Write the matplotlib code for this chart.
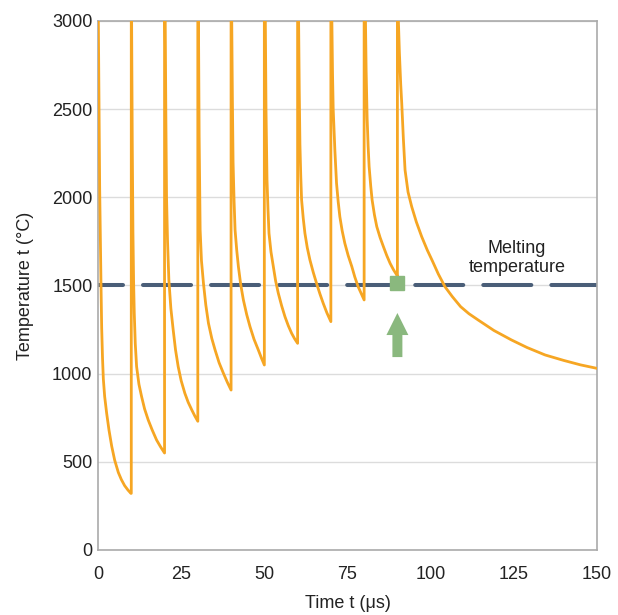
import matplotlib
matplotlib.use("Agg")
import matplotlib.pyplot as plt
from matplotlib.patches import FancyArrow

plt.rcParams["font.family"] = ["Liberation Sans", "DejaVu Sans"]

# pulse instants (µs) and the off-scale peak each pulse reaches (°C)
pulse_t = [0, 10, 20, 30, 40, 50, 60, 70, 80, 90]
peak_T = 3600

# cooling curves after each pulse: time (µs), temperature (°C)
seg0_t = [0.1, 0.3, 0.5, 0.7, 0.9, 1.1, 1.35, 1.6, 2.0, 2.6, 3.3, 4.1, 5.0, 6.1, 7.0, 8.0, 9.0, 9.9]
seg0_T = [3000, 2500, 2050, 1750, 1500, 1260, 1090, 970, 870, 775, 680, 590, 510, 440, 400, 365, 340, 321]
seg1_t = [10.1, 10.3, 10.5, 10.7, 10.9, 11.2, 11.6, 12.3, 13.1, 14.0, 15.1, 16.3, 17.6, 18.8, 20.0]
seg1_T = [3000, 2300, 1800, 1520, 1342, 1170, 1040, 940, 870, 800, 737, 680, 624, 585, 550]
seg2_t = [20.2, 20.4, 20.6, 20.9, 21.3, 21.9, 22.6, 23.3, 24.1, 25.0, 26.1, 27.1, 28.2, 29.1, 30.0]
seg2_T = [3000, 2450, 2000, 1750, 1531, 1370, 1248, 1135, 1040, 960, 889, 838, 794, 760, 730]
seg3_t = [30.2, 30.4, 30.7, 31.1, 31.7, 32.4, 33.2, 34.2, 35.2, 36.4, 37.7, 38.9, 40.0]
seg3_T = [3000, 2350, 1815, 1640, 1512, 1390, 1286, 1200, 1134, 1062, 1002, 950, 907]
seg4_t = [40.2, 40.4, 40.6, 40.9, 41.2, 41.7, 42.2, 42.9, 43.7, 44.7, 45.7, 46.9, 48.2, 49.1, 50.0]
seg4_T = [3000, 2550, 2200, 1980, 1815, 1700, 1607, 1505, 1418, 1335, 1266, 1195, 1134, 1090, 1049]
seg5_t = [50.3, 50.5, 50.8, 51.1, 51.4, 52.0, 52.7, 53.4, 54.2, 55.2, 56.2, 57.2, 58.2, 59.1, 60.0]
seg5_T = [3000, 2500, 2100, 1930, 1796, 1690, 1607, 1525, 1456, 1385, 1323, 1272, 1229, 1198, 1172]
seg6_t = [60.3, 60.5, 60.7, 60.95, 61.2, 61.7, 62.2, 62.9, 63.7, 64.7, 65.7, 66.7, 67.7, 68.8, 70.0]
seg6_T = [3000, 2600, 2300, 2120, 1985, 1880, 1796, 1715, 1645, 1575, 1512, 1453, 1399, 1345, 1295]
seg7_t = [70.3, 70.5, 70.7, 71.2, 71.7, 72.2, 72.7, 73.4, 74.2, 75.2, 76.3, 77.2, 78.2, 79.1, 80.0]
seg7_T = [3000, 2700, 2500, 2268, 2080, 1975, 1890, 1810, 1739, 1670, 1607, 1548, 1493, 1455, 1418]
seg8_t = [80.4, 80.6, 80.9, 81.2, 81.5, 82.0, 82.4, 83.1, 83.8, 84.8, 85.8, 86.8, 87.8, 88.8, 89.8, 90.0]
seg8_T = [3000, 2720, 2450, 2290, 2174, 2060, 1985, 1900, 1834, 1772, 1720, 1670, 1626, 1590, 1560, 1530]
seg9_t = [90.3, 90.6, 91.0, 91.3, 91.8, 92.3, 93.2, 94.3, 95.7, 97.3, 99.0, 100.5, 102.3, 104.3,
          106.5, 109.0, 111.5, 114.3, 119.0, 124.3, 129.0, 134.4, 140.0, 145.0, 150.0]
seg9_T = [3000, 2820, 2640, 2535, 2330, 2155, 2030, 1947, 1860, 1777, 1700, 1640, 1565, 1493,
          1437, 1380, 1340, 1304, 1245, 1191, 1148, 1106, 1075, 1050, 1030]

melt_T = 1500
melt_point_t = 90
melt_point_T = 1515

x_ticks = [0, 25, 50, 75, 100, 125, 150]
y_ticks = [0, 500, 1000, 1500, 2000, 2500, 3000]

ORANGE = "#f6a623"
SLATE = "#4a5e78"
GREEN = "#8ab87e"
TEXT = "#222222"
FS = 13

segs_t = [seg0_t, seg1_t, seg2_t, seg3_t, seg4_t, seg5_t, seg6_t, seg7_t, seg8_t, seg9_t]
segs_T = [seg0_T, seg1_T, seg2_T, seg3_T, seg4_T, seg5_T, seg6_T, seg7_T, seg8_T, seg9_T]

# stitch: vertical jump at each pulse, then the cooling curve
t_all, T_all = [], []
for tp, st, sT in zip(pulse_t, segs_t, segs_T):
    if t_all:
        t_all.append(tp)
        T_all.append(T_all[-1])
    t_all.append(tp)
    T_all.append(peak_T)
    t_all += st
    T_all += sT

fig = plt.figure(figsize=(6.18, 6.15), dpi=100)
ax = fig.add_axes([0.1586, 0.1057, 0.8074, 0.8602])

ax.grid(axis="y", color="#dcdcdc", linewidth=1.0)
ax.set_axisbelow(True)

lw = 2.9
ax.axhline(melt_T, color=SLATE, linewidth=lw, dash_capstyle="round",
           linestyle=(16.6 / lw, (34.6 / lw, 14.4 / lw)), zorder=2)

ax.plot(t_all, T_all, color=ORANGE, linewidth=2.0, zorder=3,
        solid_joinstyle="round")

ax.plot([melt_point_t], [melt_point_T], marker="s", markersize=10.5,
        color=GREEN, linestyle="none", zorder=4)
ax.add_patch(FancyArrow(melt_point_t, 1094, 0, 250, width=3.0, head_width=6.6,
                        head_length=125, length_includes_head=True,
                        color=GREEN, linewidth=0, zorder=4))

ax.text(126, 1656, "Melting\ntemperature", ha="center", va="center",
        fontsize=FS, linespacing=1.1, color=TEXT)

ax.set_xlim(0, 150)
ax.set_ylim(0, 3000)
ax.set_xticks(x_ticks)
ax.set_yticks(y_ticks)
ax.tick_params(length=0, labelsize=FS, colors=TEXT)
ax.tick_params(axis="x", pad=11.5)
ax.tick_params(axis="y", pad=4)
for s in ax.spines.values():
    s.set_color("#aaaaaa")
    s.set_linewidth(1.2)

ax.set_xlabel("Time t (μs)", fontsize=FS, color=TEXT, labelpad=9)
ax.set_ylabel("Temperature t (°C)", fontsize=FS, color=TEXT, labelpad=13)

fig.savefig("out.png", dpi=100)
